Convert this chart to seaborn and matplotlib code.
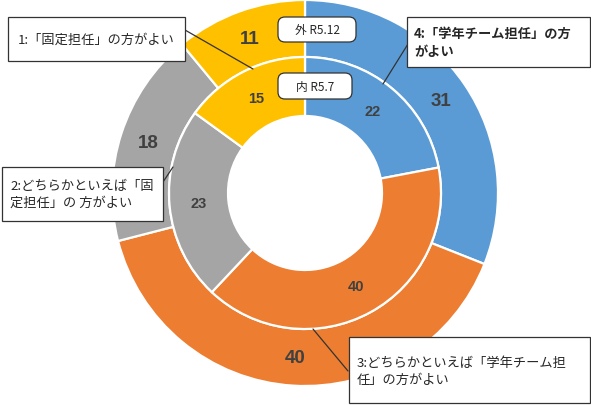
import matplotlib

matplotlib.use("Agg")
import matplotlib.pyplot as plt
from matplotlib.patches import Rectangle, FancyBboxPatch
import seaborn as sns

# 回答の区分（時計回り、12時の位置から）
categories = [
    "4:「学年チーム担任」の方がよい",
    "3:どちらかといえば「学年チーム担任」の方がよい",
    "2:どちらかといえば「固定担任」の方がよい",
    "1:「固定担任」の方がよい",
]
outer_values = [31, 40, 18, 11]  # 外 R5.12
inner_values = [22, 40, 23, 15]  # 内 R5.7
ring_names = ["外 R5.12", "内 R5.7"]

COLORS = ["#5B9BD5", "#ED7D31", "#A5A5A5", "#FFC000"]
NUM_COLOR = "#404040"
TEXT_COLOR = "#262626"
LINE_COLOR = "#333333"

W, H = 591, 406
CX, CY = 305, 194
R_OUT, R_MID, R_HOLE = 193, 136, 77

sns.set_theme(style="white")
plt.rcParams["font.family"] = ["Noto Sans CJK JP", "DejaVu Sans"]


def Y(y):
    return H - y


fig = plt.figure(figsize=(W / 100, H / 100), dpi=100)
ax = fig.add_axes([0, 0, 1, 1])

wedge_kw = dict(edgecolor="white", linewidth=1.6)
num_kw = dict(fontweight="bold", color=NUM_COLOR, family="Liberation Sans")
_, _, outer_txt = ax.pie(
    outer_values, radius=R_OUT, center=(CX, Y(CY)), colors=COLORS,
    startangle=90, counterclock=False, autopct=lambda p: f"{p:.0f}",
    pctdistance=(R_OUT + R_MID) / 2 / R_OUT,
    wedgeprops=dict(width=R_OUT - R_MID, **wedge_kw),
    textprops=dict(fontsize=13.5, **num_kw),
)
_, _, inner_txt = ax.pie(
    inner_values, radius=R_MID, center=(CX, Y(CY)), colors=COLORS,
    startangle=90, counterclock=False, autopct=lambda p: f"{p:.0f}",
    pctdistance=(R_MID + R_HOLE) / 2 / R_MID,
    wedgeprops=dict(width=R_MID - R_HOLE, **wedge_kw),
    textprops=dict(fontsize=10.5, **num_kw),
)

# 系列名のラベル
for name, (x0, y0, x1, y1) in zip(ring_names, [(278, 18, 356, 43), (278, 74, 352, 100)]):
    ax.add_patch(FancyBboxPatch((x0, Y(y1)), x1 - x0, y1 - y0,
                                boxstyle="round,pad=0,rounding_size=7",
                                facecolor="white", edgecolor=LINE_COLOR, linewidth=0.9, zorder=5))
    ax.text((x0 + x1) / 2, Y((y0 + y1) / 2), name, ha="center", va="center",
            fontsize=8.5, color=TEXT_COLOR, zorder=6)

# 吹き出し（ボックス、テキスト、引き出し線）
callouts = [
    (categories[3], (8, 18, 185, 62), (18, 40), [(185, 31), (253, 70)], "normal"),
    ("4:「学年チーム担任」の方\nがよい", (407, 18, 590, 68), (414, 43), [(408, 45), (383, 85)], "bold"),
    ("2:どちらかといえば「固\n定担任」の 方がよい", (2, 168, 163, 222), (10, 195), [(163, 183), (173, 168)], "normal"),
    ("3:どちらかといえば「学年チーム担\n任」の方がよい", (349, 338, 590, 404), (357, 372), [(348, 372), (313, 330)], "normal"),
]
for text, (x0, y0, x1, y1), (tx, ty), pts, weight in callouts:
    ax.plot([p[0] for p in pts], [Y(p[1]) for p in pts], color=LINE_COLOR, lw=0.9, zorder=4)
    ax.add_patch(Rectangle((x0, Y(y1)), x1 - x0, y1 - y0, facecolor="white",
                           edgecolor=LINE_COLOR, linewidth=0.9, zorder=5))
    ax.text(tx, Y(ty), text, ha="left", va="center", fontsize=9.5, color=TEXT_COLOR,
            fontweight=weight, linespacing=1.35, zorder=6)

ax.set_xlim(0, W)
ax.set_ylim(0, H)
ax.set_aspect("equal")
ax.axis("off")

fig.savefig("out.png", dpi=100, facecolor="white")
